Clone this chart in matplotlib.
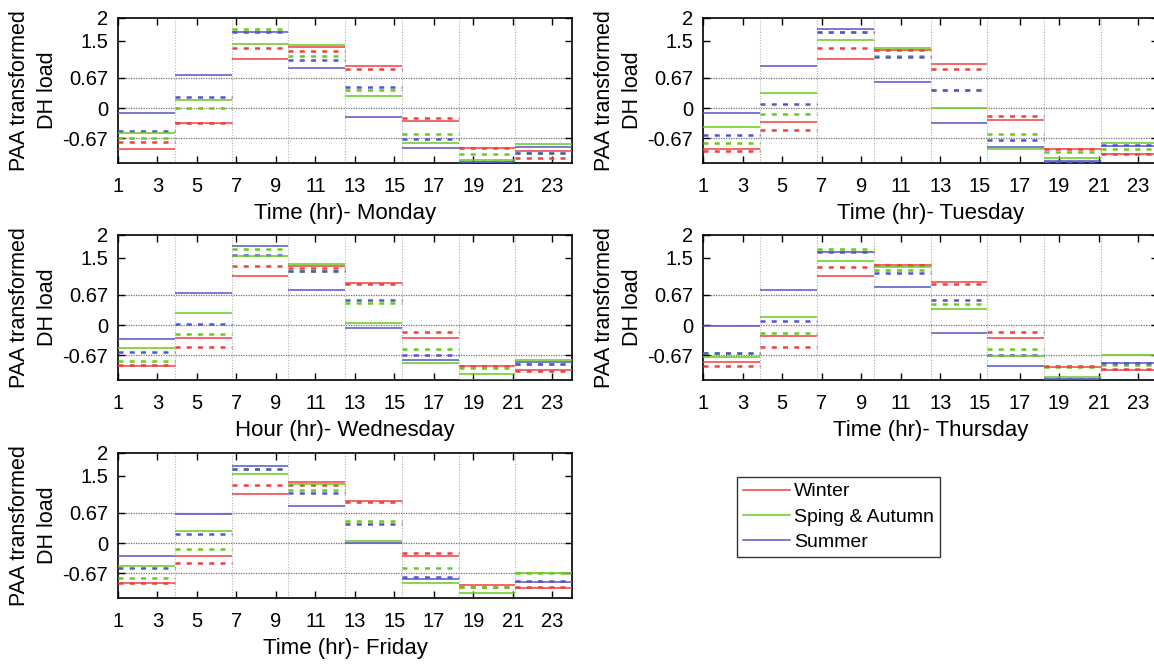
import numpy as np
import matplotlib
matplotlib.use("Agg")
import matplotlib.pyplot as plt
from matplotlib.lines import Line2D

plt.rcParams["font.family"] = ["Liberation Sans", "DejaVu Sans"]

# ── Data: PAA value of each 8 segments (solid / dashed per season) ───────────
days = ["Monday", "Tuesday", "Wednesday", "Thursday", "Friday"]
xlabels = ["Time (hr)- Monday", "Time (hr)- Tuesday", "Hour (hr)- Wednesday",
           "Time (hr)- Thursday", "Time (hr)- Friday"]
seasons = ["Winter", "Sping & Autumn", "Summer"]

mon_winter = [-0.92, -0.33, 1.10, 1.35, 0.94, -0.28, -0.88, -0.95]
mon_winter_d = [-0.76, -0.34, 1.34, 1.27, 0.87, -0.22, -0.88, -1.12]
mon_spring = [-0.55, 0.19, 1.43, 1.39, 0.27, -0.77, -1.15, -0.79]
mon_spring_d = [-0.67, 0.00, 1.75, 1.15, 0.40, -0.58, -1.01, -0.99]
mon_summer = [-0.10, 0.74, 1.69, 0.88, -0.20, -0.89, -1.20, -0.86]
mon_summer_d = [-0.51, 0.24, 1.69, 1.07, 0.46, -0.68, -1.20, -0.99]

tue_winter = [-0.91, -0.31, 1.08, 1.30, 0.97, -0.27, -0.90, -1.01]
tue_winter_d = [-0.95, -0.49, 1.34, 1.28, 0.87, -0.18, -0.90, -1.02]
tue_spring = [-0.43, 0.33, 1.52, 1.34, 0.00, -0.90, -1.10, -0.77]
tue_spring_d = [-0.78, -0.13, 1.70, 1.16, 0.41, -0.58, -0.98, -0.90]
tue_summer = [-0.10, 0.94, 1.75, 0.57, -0.34, -0.86, -1.18, -0.84]
tue_summer_d = [-0.60, 0.10, 1.70, 1.14, 0.41, -0.71, -1.20, -0.83]

wed_winter = [-0.92, -0.28, 1.10, 1.32, 0.94, -0.28, -0.92, -1.00]
wed_winter_d = [-0.89, -0.48, 1.32, 1.26, 0.91, -0.15, -0.92, -1.01]
wed_spring = [-0.50, 0.27, 1.53, 1.35, 0.04, -0.84, -1.08, -0.77]
wed_spring_d = [-0.80, -0.20, 1.69, 1.19, 0.49, -0.54, -0.96, -0.87]
wed_summer = [-0.30, 0.71, 1.75, 0.77, -0.07, -0.77, -1.22, -0.83]
wed_summer_d = [-0.60, 0.02, 1.56, 1.19, 0.56, -0.66, -1.22, -0.87]

thu_winter = [-0.82, -0.24, 1.10, 1.34, 0.95, -0.28, -0.93, -1.00]
thu_winter_d = [-0.92, -0.48, 1.30, 1.34, 0.92, -0.16, -0.91, -0.97]
thu_spring = [-0.70, 0.19, 1.43, 1.28, 0.36, -0.69, -1.16, -0.67]
thu_spring_d = [-0.62, -0.17, 1.69, 1.23, 0.47, -0.54, -0.93, -0.89]
thu_summer = [-0.02, 0.77, 1.63, 0.84, -0.17, -0.90, -1.20, -0.84]
thu_summer_d = [-0.62, 0.10, 1.63, 1.15, 0.56, -0.67, -1.19, -0.84]

fri_winter = [-0.89, -0.29, 1.08, 1.36, 0.94, -0.28, -0.93, -1.00]
fri_winter_d = [-0.89, -0.44, 1.30, 1.28, 0.92, -0.21, -0.98, -0.97]
fri_spring = [-0.50, 0.26, 1.53, 1.32, 0.05, -0.89, -1.12, -0.66]
fri_spring_d = [-0.77, -0.14, 1.64, 1.17, 0.50, -0.55, -0.98, -0.66]
fri_summer = [-0.29, 0.65, 1.71, 0.83, 0.00, -0.80, -1.25, -0.87]
fri_summer_d = [-0.56, 0.21, 1.64, 1.11, 0.42, -0.76, -1.25, -0.84]

solid = [[mon_winter, mon_spring, mon_summer],
         [tue_winter, tue_spring, tue_summer],
         [wed_winter, wed_spring, wed_summer],
         [thu_winter, thu_spring, thu_summer],
         [fri_winter, fri_spring, fri_summer]]
dashed = [[mon_winter_d, mon_spring_d, mon_summer_d],
          [tue_winter_d, tue_spring_d, tue_summer_d],
          [wed_winter_d, wed_spring_d, wed_summer_d],
          [thu_winter_d, thu_spring_d, thu_summer_d],
          [fri_winter_d, fri_spring_d, fri_summer_d]]

breakpoints = [-0.67, 0, 0.67]
yticks = [-0.67, 0, 0.67, 1.5, 2]
ytick_labels = ["-0.67", "0", "0.67", "1.5", "2"]
xticks = list(range(1, 24, 2))

colors = ["#f04040", "#66cc1a", "#5555cc"]

# segment edges: 8 equal PAA frames over hours 1..24
edges = np.linspace(1, 24, 9)

# ── Layout (pixel positions from the 1154x664 reference) ────────────────────
W, H = 1154, 664
fig = plt.figure(figsize=(W / 100, H / 100), dpi=100)

# left, top, right, bottom in px
boxes = [(118, 18, 572, 163), (703, 18, 1158, 163),
         (118, 235, 572, 380), (703, 235, 1158, 380),
         (118, 453, 572, 598)]

for i, (l, t, r, b) in enumerate(boxes):
    ax = fig.add_axes([l / W, 1 - b / H, (r - l) / W, (b - t) / H])
    ax.set_xlim(1, 24)
    ax.set_ylim(-1.22, 2.0)

    for e in edges[1:-1]:
        ax.axvline(e, color="#b0b0b0", lw=0.8, ls=(0, (1, 1.5)), zorder=1)
    for bp in breakpoints:
        ax.axhline(bp, color="#707070", lw=0.9, ls=(0, (1, 1)), zorder=1)

    for k in range(3):
        ax.hlines(dashed[i][k], edges[:-1], edges[1:], colors=colors[k],
                  lw=1.8, linestyles=(0, (2, 2.5)), zorder=3)
        ax.hlines(solid[i][k], edges[:-1], edges[1:], colors=colors[k],
                  lw=1.1, zorder=4)

    ax.set_xticks(xticks)
    ax.set_yticks(yticks)
    ax.set_yticklabels(ytick_labels)
    ax.tick_params(direction="in", top=True, right=True, length=5,
                   width=1, labelsize=14.5)
    ax.tick_params(axis="x", pad=10)
    ax.tick_params(axis="y", pad=7)
    for s in ax.spines.values():
        s.set_linewidth(1.2)
    ax.set_xlabel(xlabels[i], fontsize=16, labelpad=5)
    ax.set_ylabel("PAA transformed\nDH load", fontsize=15.5,
                  linespacing=1.45)
    ax.yaxis.set_label_coords(-0.132, 0.5)

# legend box on the empty slot
handles = [Line2D([0], [0], color=c, lw=1.1) for c in colors]
leg = fig.legend(handles, seasons, loc="upper left",
                 bbox_to_anchor=(737 / W, 1 - 477 / H), fontsize=14,
                 frameon=True, fancybox=False, edgecolor="black",
                 handlelength=2.4, handletextpad=0.25, borderpad=0.3,
                 labelspacing=0.4, borderaxespad=0)
leg.get_frame().set_linewidth(1.0)

fig.savefig("out.png", dpi=100)
